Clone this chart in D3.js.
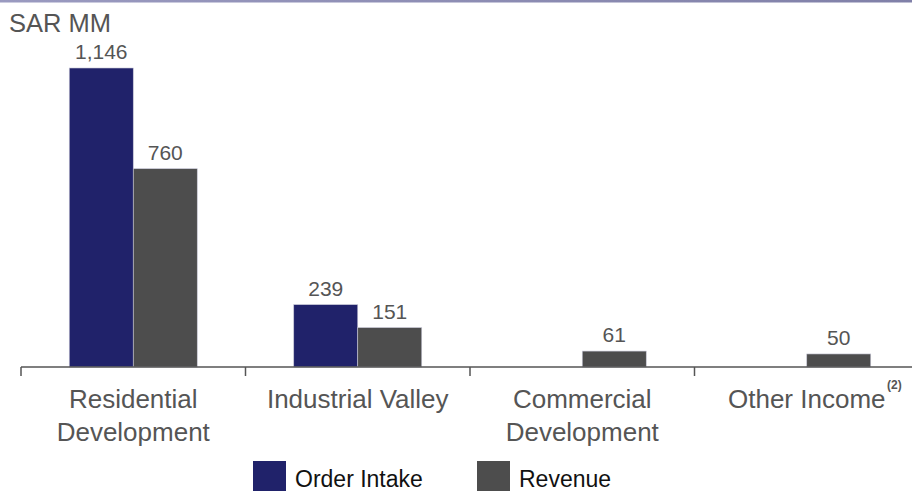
<!DOCTYPE html>
<html><head><meta charset="utf-8">
<script src="https://cdn.jsdelivr.net/npm/d3@7"></script>
<style>body{margin:0;background:#fff}svg{display:block;font-family:"Liberation Sans",Arial,sans-serif}</style>
</head><body><svg id="c" width="912" height="491"></svg>
<script>
const categories = ["Residential Development","Industrial Valley","Commercial Development","Other Income"];
const categoryLines = [["Residential","Development"],["Industrial Valley"],["Commercial","Development"],["Other Income"]];
const seriesNames = ["Order Intake","Revenue"];
const orderIntake = [1146, 239, null, null];
const revenue = [760, 151, 61, 50];
const colors = ["#20226a","#4d4d4d"];

const svg = d3.select("#c");
const W = 912, H = 491;
const baseY = 367;
const x = d3.scaleBand().domain(categories).range([21, 919]).paddingInner(0).paddingOuter(0);
const y = d3.scaleLinear().domain([0, 1146]).range([baseY, 68]);
const barW = 64;

// top border
const grad = svg.append("defs").append("linearGradient").attr("id","tg");
grad.append("stop").attr("offset","0").attr("stop-color","#9a9ac0");
grad.append("stop").attr("offset","1").attr("stop-color","#8080a8");
svg.append("rect").attr("x",0).attr("y",0).attr("width",W).attr("height",2.5).attr("fill","url(#tg)");

svg.append("text").attr("x",9).attr("y",32).attr("font-size",25.5).attr("fill","#555").text("SAR MM");

const series = [orderIntake, revenue];
series.forEach((vals, si) => {
  categories.forEach((c, i) => {
    const v = vals[i];
    if (v == null) return;
    const cx = x(c) + x.bandwidth()/2;
    const bx = cx - barW + si*barW;
    svg.append("rect").attr("x",bx).attr("y",y(v)).attr("width",barW).attr("height",baseY - y(v))
      .attr("fill",colors[si]).attr("stroke","#c8c8d8").attr("stroke-width",0.6);
    svg.append("text").attr("x",bx + barW/2).attr("y",y(v)-9).attr("text-anchor","middle")
      .attr("font-size",21).attr("fill","#555").text(d3.format(",")(v));
  });
});

// axis
const axis = svg.append("g");
axis.append("line").attr("x1",21).attr("x2",W).attr("y1",baseY).attr("y2",baseY).attr("stroke","#555").attr("stroke-width",1.5);
categories.forEach(c => {
  axis.append("line").attr("x1",x(c)).attr("x2",x(c)).attr("y1",baseY).attr("y2",baseY+9).attr("stroke","#555").attr("stroke-width",1.5);
});
categories.forEach((c, i) => {
  const cx = x(c) + x.bandwidth()/2;
  const t = svg.append("text").attr("text-anchor","middle").attr("font-size",26).attr("fill","#555");
  categoryLines[i].forEach((ln, k) => {
    t.append("tspan").attr("x",cx).attr("y",408 + k*33).text(ln);
  });
});
// superscript
svg.append("text").attr("x",887).attr("y",389).attr("font-size",12).attr("font-weight","bold").attr("fill","#555").text("(2)");

// legend
const legX = [253, 477];
seriesNames.forEach((n, i) => {
  svg.append("rect").attr("x",legX[i]).attr("y",461).attr("width",33).attr("height",30).attr("fill",colors[i]);
  svg.append("text").attr("x",legX[i]+42).attr("y",487).attr("font-size",23).attr("fill","#111").text(n);
});
</script></body></html>
